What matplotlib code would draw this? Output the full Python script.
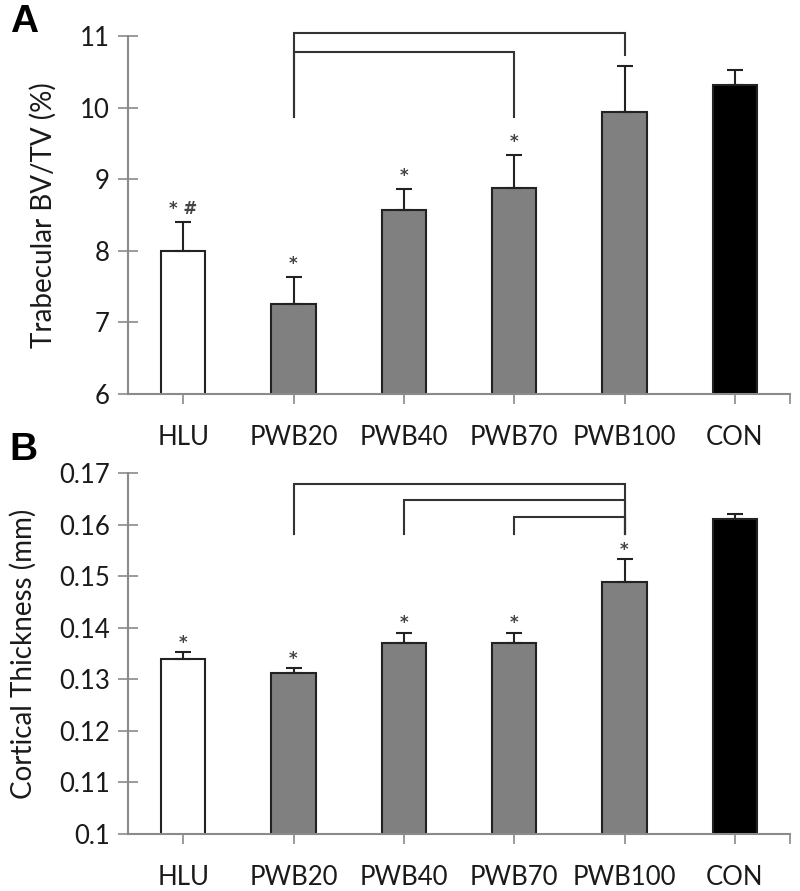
import matplotlib.pyplot as plt

groups = ["HLU", "PWB20", "PWB40", "PWB70", "PWB100", "CON"]
bar_colors = ["white", "#808080", "#808080", "#808080", "#808080", "black"]

# panel A: trabecular BV/TV (%)
bvtv_mean = [8.00, 7.26, 8.57, 8.88, 9.94, 10.32]
bvtv_err = [0.40, 0.37, 0.29, 0.46, 0.64, 0.21]
bvtv_marks = ["* #", "*", "*", "*", "", ""]
# brackets: (left group, right group, level, left leg end, right leg end)
bvtv_brackets = [(1, 4, 11.04, 9.87, 10.74), (1, 3, 10.78, 9.87, 9.87)]

# panel B: cortical thickness (mm)
ct_mean = [0.1340, 0.1312, 0.1370, 0.1370, 0.1489, 0.1612]
ct_err = [0.0013, 0.0010, 0.0021, 0.0021, 0.0044, 0.0009]
ct_marks = ["*", "*", "*", "*", "*", ""]
ct_brackets = [(1, 4, 0.1679, 0.1582, 0.1582),
               (2, 4, 0.1648, 0.1582, 0.1582),
               (3, 4, 0.1615, 0.1582, 0.1582)]

plt.rcParams["font.family"] = ["Lato", "DejaVu Sans"]
AXIS_GREY = "#8a8a8a"
TEXT = "#1a1a1a"


def draw_panel(ax, means, errs, marks, brackets, ylim, yticks, ylabel, mark_gap, ticklabels):
    x = range(len(groups))
    ax.bar(x, means, width=0.4, color=bar_colors, edgecolor="#222222", linewidth=1.5, zorder=2)
    ax.errorbar(x, means, yerr=[[0] * len(errs), errs], fmt="none", ecolor="#222222",
                elinewidth=1.5, capsize=5.5, capthick=1.5, zorder=3)
    for i, m in enumerate(marks):
        if m:
            ax.text(i, means[i] + errs[i] + mark_gap, m, ha="center", va="center",
                    fontsize=12, color="#444444", family="DejaVu Sans", fontweight="bold")
    for a, b, lvl, la, lb in brackets:
        ax.plot([a, a, b, b], [la, lvl, lvl, lb], color="#333333", lw=1.5,
                clip_on=False, solid_joinstyle="miter")
    ax.set_xlim(-0.5, 5.5)
    ax.set_ylim(*ylim)
    ax.set_yticks(yticks)
    ax.set_yticklabels(ticklabels, fontsize=18.5, color=TEXT)
    ax.set_xticks(list(x))
    ax.set_xticks([5.5], minor=True)
    ax.set_xticklabels(groups, fontsize=18.5, color=TEXT)
    ax.tick_params(axis="y", direction="inout", length=14, width=1.2, color=AXIS_GREY, pad=6)
    ax.tick_params(axis="x", which="both", direction="out", length=7, width=1.2,
                   color=AXIS_GREY, pad=15)
    for s in ["top", "right"]:
        ax.spines[s].set_visible(False)
    for s in ["left", "bottom"]:
        ax.spines[s].set_color(AXIS_GREY)
        ax.spines[s].set_linewidth(1.5)
    ax.set_ylabel(ylabel, fontsize=20, color=TEXT)


fig = plt.figure(figsize=(8.0, 8.91), dpi=100)
ax_a = fig.add_axes([0.16, 0.5578, 0.8275, 0.4018])
ax_b = fig.add_axes([0.16, 0.0640, 0.8275, 0.4048])

draw_panel(ax_a, bvtv_mean, bvtv_err, bvtv_marks, bvtv_brackets, (6, 11), [6, 7, 8, 9, 10, 11],
           "Trabecular BV/TV (%)", 0.18, ["6", "7", "8", "9", "10", "11"])
draw_panel(ax_b, ct_mean, ct_err, ct_marks, ct_brackets, (0.1, 0.17),
           [0.10, 0.11, 0.12, 0.13, 0.14, 0.15, 0.16, 0.17],
           "Cortical Thickness (mm)", 0.0018,
           ["0.1", "0.11", "0.12", "0.13", "0.14", "0.15", "0.16", "0.17"])
ax_a.yaxis.set_label_coords(-0.108, 0.5)
ax_b.yaxis.set_label_coords(-0.138, 0.5)

fig.text(0.012, 0.975, "A", fontsize=28, fontweight="bold", family="Liberation Sans", va="center")
fig.text(0.012, 0.495, "B", fontsize=28, fontweight="bold", family="Liberation Sans", va="center")

fig.savefig("out.png", dpi=100)
